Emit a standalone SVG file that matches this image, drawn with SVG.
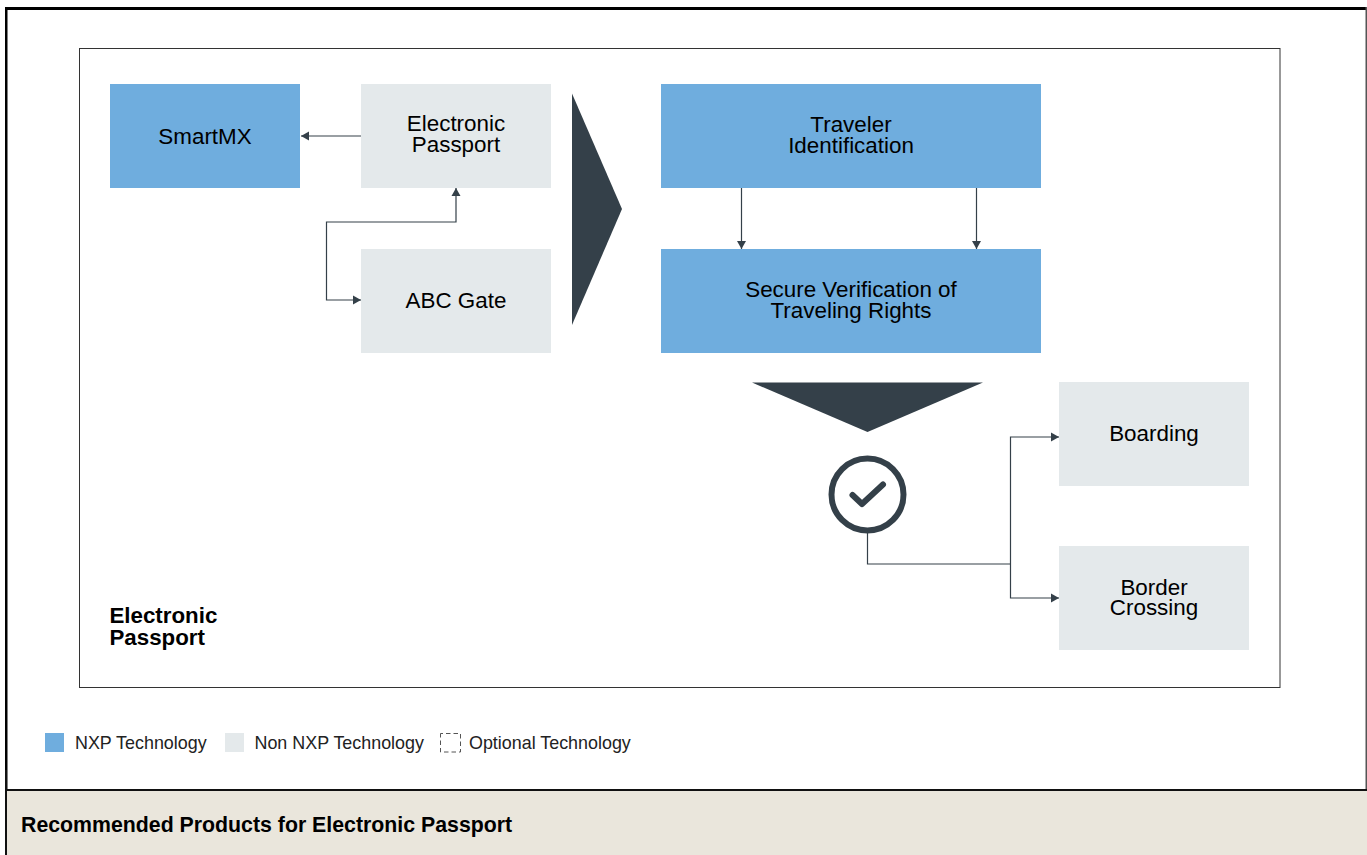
<svg xmlns="http://www.w3.org/2000/svg" width="1367" height="855" viewBox="0 0 1367 855">
<style>
text{font-family:"Liberation Sans",Arial,sans-serif;fill:#000}
.n{font-size:22.4px;text-anchor:middle}
.t{font-size:22.3px;font-weight:700}
.b{fill:#6fadde}
.g{fill:#e4e9eb}
.c{fill:none;stroke:#344049;stroke-width:1.2}
.l{font-size:17.9px;fill:#222}
.d{fill:#344049}
</style>
<defs>
<marker id="a" markerUnits="userSpaceOnUse" markerWidth="10" markerHeight="10" refX="8" refY="5" orient="auto-start-reverse"><path d="M0 0.500L8 5L0 9.500Z" fill="#344049"/></marker>
</defs>
<rect width="1367" height="855" fill="#fff"/>
<g id="frame">
<rect x="5" y="7" width="1362" height="3" fill="#000"/>
<rect x="5" y="7" width="2.500" height="783" fill="#000"/>
<rect x="1365.500" y="7" width="1.500" height="783" fill="#555"/>
<rect x="6" y="791" width="1361" height="64" fill="#eae6dc"/>
<rect x="6" y="789" width="1361" height="2" fill="#111"/>
<rect x="5" y="770" width="2" height="85" fill="#111"/>
<rect x="79.500" y="48.500" width="1200.500" height="639" fill="none" stroke="#333" stroke-width="1"/>
</g>
<g id="connectors">
<path class="c" d="M361 136H301" marker-end="url(#a)"/>
<path class="c" d="M361 300H326.500V222H456V188" marker-start="url(#a)" marker-end="url(#a)"/>
<path class="c" d="M741.500 188V249" marker-end="url(#a)"/>
<path class="c" d="M976.500 188V249" marker-end="url(#a)"/>
<path class="c" d="M867.500 533V564H1010.500"/>
<path class="c" d="M1010.500 564V437H1059" marker-end="url(#a)"/>
<path class="c" d="M1010.500 564V598H1059" marker-end="url(#a)"/>
</g>
<g id="smartmx"><rect class="b" x="110" y="84" width="190" height="104"/><text class="n" x="205" y="144">SmartMX</text></g>
<g id="passport"><rect class="g" x="361" y="84" width="190" height="104"/><text class="n" x="456" y="131">Electronic</text><text class="n" x="456" y="152">Passport</text></g>
<g id="abc-gate"><rect class="g" x="361" y="249" width="190" height="104"/><text class="n" x="456" y="308">ABC Gate</text></g>
<g id="arrow-right"><path class="d" d="M572 93.500L622 209L572 325Z"/></g>
<g id="traveler"><rect class="b" x="661" y="84" width="380" height="104"/><text class="n" x="851" y="132">Traveler</text><text class="n" x="851" y="153">Identification</text></g>
<g id="verification"><rect class="b" x="661" y="249" width="380" height="104"/><text class="n" x="851" y="297">Secure Verification of</text><text class="n" x="851" y="318">Traveling Rights</text></g>
<g id="arrow-down"><path class="d" d="M752 382.500H983L867.500 432Z"/></g>
<g id="check"><circle cx="867.500" cy="494.500" r="36" fill="#fff" stroke="#344049" stroke-width="6"/><path d="M852.500 495L862 504L883 484.500" fill="none" stroke="#344049" stroke-width="6" stroke-linecap="round" stroke-linejoin="round"/></g>
<g id="boarding"><rect class="g" x="1059" y="382" width="190" height="104"/><text class="n" x="1154" y="441">Boarding</text></g>
<g id="border"><rect class="g" x="1059" y="546" width="190" height="104"/><text class="n" x="1154" y="595">Border</text><text class="n" x="1154" y="615">Crossing</text></g>
<g id="title"><text class="t" x="109.500" y="623">Electronic</text><text class="t" x="109.500" y="645">Passport</text></g>
<g id="legend">
<rect class="b" x="45" y="733" width="19" height="19"/><text class="l" x="75" y="749">NXP Technology</text>
<rect class="g" x="225" y="733" width="19" height="19"/><text class="l" x="254.500" y="749">Non NXP Technology</text>
<rect x="440.500" y="733.500" width="20" height="18.500" fill="none" stroke="#555" stroke-width="1" stroke-dasharray="4.500 3" stroke-dashoffset="2"/><text class="l" x="469" y="749">Optional Technology</text>
</g>
<text id="footer" x="21" y="832" font-size="21.300" font-weight="700">Recommended Products for Electronic Passport</text>
</svg>
